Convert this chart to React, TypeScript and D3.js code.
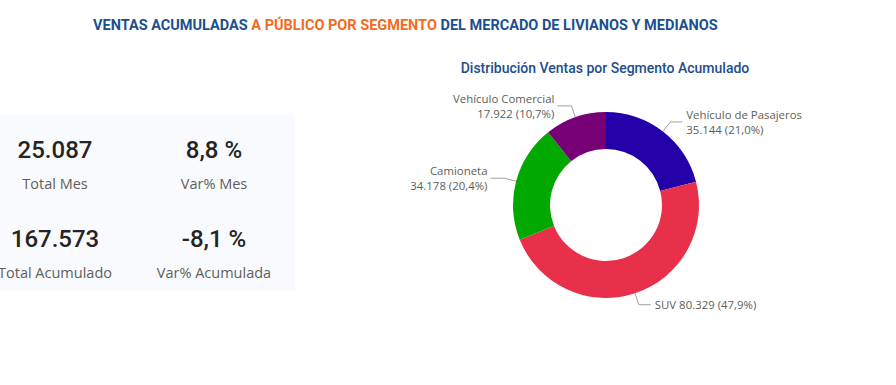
import React, { useEffect, useRef } from "react";
import * as d3 from "d3";

// segment data (accumulated sales)
const segments = ["Vehículo de Pasajeros", "SUV", "Camioneta", "Vehículo Comercial"];
const values = [35144, 80329, 34178, 17922];
const shares = ["21,0%", "47,9%", "20,4%", "10,7%"];
const colors = ["#2400A8", "#E8304A", "#00A800", "#770077"];

// KPI card
const kpiValues = ["25.087", "8,8 %", "167.573", "-8,1 %"];
const kpiLabels = ["Total Mes", "Var% Mes", "Total Acumulado", "Var% Acumulada"];

const fmt = (v: number) => d3.format(",")(v).replace(/,/g, ".");

function App() {
  const svgRef = useRef<SVGSVGElement>(null);

  useEffect(() => {
    document.body.style.margin = "0";
    const svg = d3.select(svgRef.current);
    svg.selectAll("*").remove();

    // title
    const title = svg
      .append("text")
      .attr("x", 93)
      .attr("y", 30)
      .style("font-family", "Roboto")
      .style("font-weight", "bold")
      .style("font-size", "14.5px");
    title.append("tspan").attr("fill", "#1B4F8F").text("VENTAS ACUMULADAS ");
    title.append("tspan").attr("fill", "#F26B1F").text("A PÚBLICO POR SEGMENTO ");
    title.append("tspan").attr("fill", "#1B4F8F").text("DEL MERCADO DE LIVIANOS Y MEDIANOS");

    // KPI card
    svg
      .append("rect")
      .attr("x", 0)
      .attr("y", 115)
      .attr("width", 295)
      .attr("height", 176)
      .attr("fill", "#F8FAFD");

    const colX = [55, 214];
    const rowY = [158, 247];
    kpiValues.forEach((v, i) => {
      const cx = colX[i % 2];
      const by = rowY[Math.floor(i / 2)];
      svg
        .append("text")
        .attr("x", cx)
        .attr("y", by)
        .attr("text-anchor", "middle")
        .attr("fill", "#252423")
        .style("font-family", "Roboto")
        .style("font-weight", 500)
        .style("font-size", "24px")
        .text(v);
      svg
        .append("text")
        .attr("x", cx)
        .attr("y", by + 31)
        .attr("text-anchor", "middle")
        .attr("fill", "#605E5C")
        .style("font-family", "Open Sans")
        .style("font-size", "14.5px")
        .text(kpiLabels[i]);
    });

    // donut subtitle
    svg
      .append("text")
      .attr("x", 605)
      .attr("y", 73)
      .attr("text-anchor", "middle")
      .attr("fill", "#1E4D8C")
      .style("font-family", "Roboto")
      .style("font-weight", 500)
      .style("font-size", "14px")
      .text("Distribución Ventas por Segmento Acumulado");

    const cx = 606;
    const cy = 205;
    const outerR = 93;
    const innerR = 56;

    const pie = d3.pie<number>().sort(null).value((d) => d);
    const arcs = pie(values);
    const arc = d3.arc<d3.PieArcDatum<number>>().innerRadius(innerR).outerRadius(outerR);

    const g = svg.append("g").attr("transform", `translate(${cx},${cy})`);

    g.selectAll("path.slice")
      .data(arcs)
      .enter()
      .append("path")
      .attr("class", "slice")
      .attr("d", arc)
      .attr("fill", (d, i) => colors[i]);

    // labels with leader lines
    arcs.forEach((d, i) => {
      const mid = (d.startAngle + d.endAngle) / 2;
      const sx = Math.sin(mid);
      const sy = -Math.cos(mid);
      const p1 = [sx * outerR, sy * outerR];
      const p2 = [sx * 105, sy * 105];
      const right = sx > 0;
      const p3 = [p2[0] + (right ? 12 : -14), p2[1]];

      g.append("polyline")
        .attr("points", [p1, p2, p3].map((p) => p.join(",")).join(" "))
        .attr("fill", "none")
        .attr("stroke", "#A0A0A0")
        .attr("stroke-width", 1);

      const tx = p3[0] + (right ? 4 : -3);
      const anchor = right ? "start" : "end";
      const name = segments[i];
      const valueText = `${fmt(values[i])} (${shares[i]})`;
      const lbl = g
        .append("text")
        .attr("text-anchor", anchor)
        .attr("fill", "#605E5C")
        .style("font-family", "Open Sans")
        .style("font-size", "11.4px");
      if (name === "SUV") {
        lbl.attr("x", tx).attr("y", p3[1] + 4).text(`${name} ${valueText}`);
      } else {
        lbl.append("tspan").attr("x", tx).attr("y", p3[1] - 3).text(name);
        lbl.append("tspan").attr("x", tx).attr("y", p3[1] + 12).text(valueText);
      }
    });
  }, []);

  return <svg ref={svgRef} width={896} height={385} style={{ display: "block", background: "#fff" }}></svg>;
}

export default App;
